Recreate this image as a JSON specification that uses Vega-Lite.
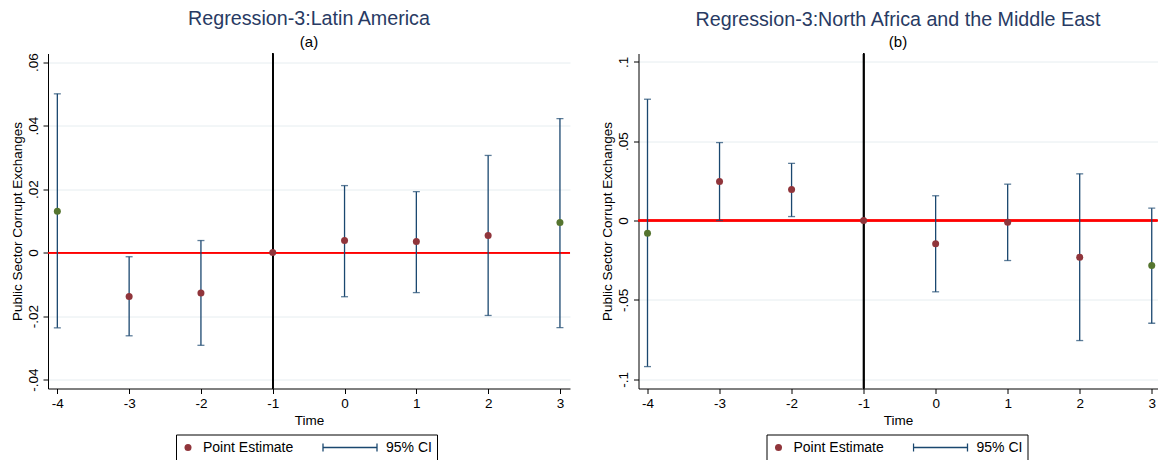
{
  "$schema": "https://vega.github.io/schema/vega-lite/v6.json",
  "background": "white",
  "padding": {"left": 10, "top": 8.5, "right": 0, "bottom": 0},
  "config": {
    "font": "Liberation Sans",
    "view": {"stroke": null},
    "concat": {"spacing": 29.5},
    "axis": {
      "labelFont": "Liberation Sans",
      "labelFontSize": 13.5,
      "labelColor": "#000000",
      "titleFont": "Liberation Sans",
      "titleFontSize": 13.5,
      "titleFontWeight": "normal",
      "titleColor": "#000000",
      "domainColor": "#000000",
      "domainWidth": 1,
      "tickColor": "#000000",
      "tickWidth": 1,
      "tickSize": 5
    },
    "title": {
      "font": "Liberation Sans",
      "fontSize": 19.7,
      "fontWeight": "normal",
      "color": "#283a63",
      "subtitleFont": "Liberation Sans",
      "subtitleFontSize": 15,
      "subtitleColor": "#000000",
      "subtitlePadding": 6,
      "anchor": "middle",
      "offset": 2.5
    },
    "legend": {
      "orient": "none",
      "legendX": 128,
      "legendY": 381,
      "direction": "horizontal",
      "padding": 5,
      "strokeColor": "#000000",
      "fillColor": "#ffffff",
      "labelFont": "Liberation Sans",
      "labelFontSize": 14,
      "labelColor": "#000000",
      "labelOffset": 8,
      "columnPadding": 28,
      "clipHeight": 16,
      "symbolStrokeWidth": 1.3
    }
  },
  "datasets": {
    "latin_america": [
      {"t": -4, "est": 0.0130, "lo": -0.0237, "hi": 0.0500, "end": true, "series": "Point Estimate"},
      {"t": -3, "est": -0.0138, "lo": -0.0262, "hi": -0.0013, "end": false, "series": "Point Estimate"},
      {"t": -2, "est": -0.0127, "lo": -0.0292, "hi": 0.0038, "end": false, "series": "Point Estimate"},
      {"t": -1, "est": 0, "lo": null, "hi": null, "end": false, "series": "Point Estimate"},
      {"t": 0, "est": 0.0038, "lo": -0.0139, "hi": 0.0211, "end": false, "series": "Point Estimate"},
      {"t": 1, "est": 0.0035, "lo": -0.0126, "hi": 0.0192, "end": false, "series": "Point Estimate"},
      {"t": 2, "est": 0.0054, "lo": -0.0198, "hi": 0.0306, "end": false, "series": "Point Estimate"},
      {"t": 3, "est": 0.0095, "lo": -0.0236, "hi": 0.0422, "end": true, "series": "Point Estimate"}
    ],
    "mena": [
      {"t": -4, "est": -0.0080, "lo": -0.0920, "hi": 0.0764, "end": true, "series": "Point Estimate"},
      {"t": -3, "est": 0.0246, "lo": 0.0000, "hi": 0.0491, "end": false, "series": "Point Estimate"},
      {"t": -2, "est": 0.0195, "lo": 0.0025, "hi": 0.0360, "end": false, "series": "Point Estimate"},
      {"t": -1, "est": 0, "lo": null, "hi": null, "end": false, "series": "Point Estimate"},
      {"t": 0, "est": -0.0147, "lo": -0.0449, "hi": 0.0156, "end": false, "series": "Point Estimate"},
      {"t": 1, "est": -0.0011, "lo": -0.0252, "hi": 0.0229, "end": false, "series": "Point Estimate"},
      {"t": 2, "est": -0.0231, "lo": -0.0756, "hi": 0.0294, "end": false, "series": "Point Estimate"},
      {"t": 3, "est": -0.0284, "lo": -0.0647, "hi": 0.0078, "end": true, "series": "Point Estimate"}
    ]
  },
  "hconcat": [
    {
      "width": 522,
      "height": 335,
      "title": {"text": "Regression-3:Latin America", "subtitle": "(a)"},
      "data": {"name": "latin_america"},
      "layer": [
        {
          "mark": {"type": "rule", "color": "#ff0000", "strokeWidth": 1.3},
          "encoding": {
            "y": {"datum": 0, "type": "quantitative", "scale": {"domain": [-0.0428, 0.0627], "nice": false, "zero": false}}
          }
        },
        {
          "mark": {"type": "rule", "color": "#000000", "strokeWidth": 1.3},
          "encoding": {
            "x": {"datum": -1, "type": "quantitative", "scale": {"domain": [-4.13, 3.14], "nice": false, "zero": false}}
          }
        },
        {
          "transform": [{"filter": "datum.lo != null"}],
          "mark": {"type": "errorbar", "color": "#1a476f", "thickness": 1.3, "ticks": {"size": 7}},
          "encoding": {
            "x": {
              "field": "t", "type": "quantitative",
              "scale": {"domain": [-4.13, 3.14], "nice": false, "zero": false},
              "axis": {"title": "Time", "values": [-4, -3, -2, -1, 0, 1, 2, 3], "grid": false, "labelPadding": 3, "titlePadding": 3,
                       "labelExpr": "(datum.value < 0 ? '-' : '') + format(abs(datum.value), 'd')"}
            },
            "y": {
              "field": "lo", "type": "quantitative",
              "scale": {"domain": [-0.0428, 0.0627], "nice": false, "zero": false},
              "axis": {"title": "Public Sector Corrupt Exchanges", "values": [-0.04, -0.02, 0, 0.02, 0.04, 0.06],
                       "grid": true, "gridColor": "#e6edf0", "gridWidth": 1, "labelAngle": 270, "labelPadding": 2.6, "titlePadding": 2.2,
                       "labelExpr": "datum.value == 0 ? '0' : (datum.value < 0 ? '-' : '') + replace(format(abs(datum.value), '.2~f'), '0.', '.')"}
            },
            "y2": {"field": "hi"}
          }
        },
        {
          "transform": [{"filter": "!datum.end"}],
          "mark": {"type": "point", "filled": true, "opacity": 1},
          "encoding": {
            "x": {"field": "t", "type": "quantitative"},
            "y": {"field": "est", "type": "quantitative"},
            "fill": {"field": "series", "type": "nominal",
                     "scale": {"domain": ["Point Estimate", "95% CI"], "range": ["#90353b", "transparent"]},
                     "legend": {"title": null}},
            "stroke": {"field": "series", "type": "nominal",
                       "scale": {"domain": ["Point Estimate", "95% CI"], "range": ["transparent", "#1a476f"]},
                       "legend": {"title": null}},
            "shape": {"field": "series", "type": "nominal",
                      "scale": {"domain": ["Point Estimate", "95% CI"], "range": ["circle", "M-1,0H1M-1,-0.15V0.15M1,-0.15V0.15"]},
                      "legend": {"title": null}},
            "size": {"field": "series", "type": "nominal",
                     "scale": {"domain": ["Point Estimate", "95% CI"], "range": [49, 2916]},
                     "legend": {"title": null}}
          }
        },
        {
          "transform": [{"filter": "datum.end"}],
          "mark": {"type": "point", "filled": true, "opacity": 1, "color": "#55752f", "size": 49},
          "encoding": {
            "x": {"field": "t", "type": "quantitative"},
            "y": {"field": "est", "type": "quantitative"}
          }
        }
      ]
    },
    {
      "width": 519,
      "height": 335,
      "title": {"text": "Regression-3:North Africa and the Middle East", "subtitle": "(b)"},
      "data": {"name": "mena"},
      "layer": [
        {
          "mark": {"type": "rule", "color": "#ff0000", "strokeWidth": 1.3},
          "encoding": {
            "y": {"datum": 0, "type": "quantitative", "scale": {"domain": [-0.1058, 0.1052], "nice": false, "zero": false}}
          }
        },
        {
          "mark": {"type": "rule", "color": "#000000", "strokeWidth": 1.3},
          "encoding": {
            "x": {"datum": -1, "type": "quantitative", "scale": {"domain": [-4.125, 3.08], "nice": false, "zero": false}}
          }
        },
        {
          "transform": [{"filter": "datum.lo != null"}],
          "mark": {"type": "errorbar", "color": "#1a476f", "thickness": 1.3, "ticks": {"size": 7}},
          "encoding": {
            "x": {
              "field": "t", "type": "quantitative",
              "scale": {"domain": [-4.125, 3.08], "nice": false, "zero": false},
              "axis": {"title": "Time", "values": [-4, -3, -2, -1, 0, 1, 2, 3], "grid": false, "labelPadding": 3, "titlePadding": 3,
                       "labelExpr": "(datum.value < 0 ? '-' : '') + format(abs(datum.value), 'd')"}
            },
            "y": {
              "field": "lo", "type": "quantitative",
              "scale": {"domain": [-0.1058, 0.1052], "nice": false, "zero": false},
              "axis": {"title": "Public Sector Corrupt Exchanges", "values": [-0.1, -0.05, 0, 0.05, 0.1],
                       "grid": true, "gridColor": "#e6edf0", "gridWidth": 1, "labelAngle": 270, "labelPadding": 2.6, "titlePadding": 2.2,
                       "labelExpr": "datum.value == 0 ? '0' : (datum.value < 0 ? '-' : '') + replace(format(abs(datum.value), '.2~f'), '0.', '.')"}
            },
            "y2": {"field": "hi"}
          }
        },
        {
          "transform": [{"filter": "!datum.end"}],
          "mark": {"type": "point", "filled": true, "opacity": 1},
          "encoding": {
            "x": {"field": "t", "type": "quantitative"},
            "y": {"field": "est", "type": "quantitative"},
            "fill": {"field": "series", "type": "nominal",
                     "scale": {"domain": ["Point Estimate", "95% CI"], "range": ["#90353b", "transparent"]},
                     "legend": {"title": null}},
            "stroke": {"field": "series", "type": "nominal",
                       "scale": {"domain": ["Point Estimate", "95% CI"], "range": ["transparent", "#1a476f"]},
                       "legend": {"title": null}},
            "shape": {"field": "series", "type": "nominal",
                      "scale": {"domain": ["Point Estimate", "95% CI"], "range": ["circle", "M-1,0H1M-1,-0.15V0.15M1,-0.15V0.15"]},
                      "legend": {"title": null}},
            "size": {"field": "series", "type": "nominal",
                     "scale": {"domain": ["Point Estimate", "95% CI"], "range": [49, 2916]},
                     "legend": {"title": null}}
          }
        },
        {
          "transform": [{"filter": "datum.end"}],
          "mark": {"type": "point", "filled": true, "opacity": 1, "color": "#55752f", "size": 49},
          "encoding": {
            "x": {"field": "t", "type": "quantitative"},
            "y": {"field": "est", "type": "quantitative"}
          }
        }
      ]
    }
  ],
  "resolve": {
    "scale": {"fill": "independent", "stroke": "independent", "shape": "independent", "size": "independent"},
    "legend": {"fill": "independent", "stroke": "independent", "shape": "independent", "size": "independent"}
  }
}
